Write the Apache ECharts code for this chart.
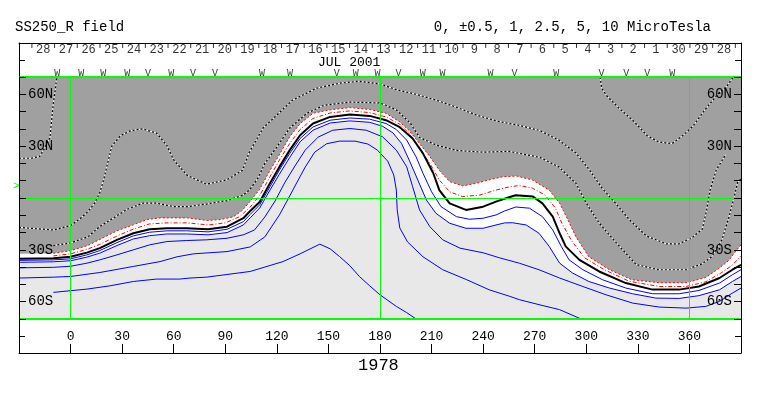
<!DOCTYPE html>
<html>
<head>
<meta charset="utf-8">
<title>SS250_R field</title>
<script src="https://cdn.jsdelivr.net/npm/echarts@6/dist/echarts.min.js"></script>
<style>
  html, body { margin: 0; padding: 0; background: #fff; }
  #chart { width: 763px; height: 396px; }
</style>
</head>
<body>
<div id="chart"></div>
<script>
// contour lines as [longitude, latitude]
// negative polarity, black dotted
const negA = [[-30,23],[-23,23],[-18,24],[-15,29],[-12,35],[-11,45],[-10,55],[-9,62],[-8,70]];
const negB = [[308,70],[309,63.5],[312,59],[319,52],[327,45],[335.5,36],[342,32.5],[350,31.5],[356,36],[362,41.5],[369,51],[376,59.5],[382,65],[385.5,70]];
const negC = [[-30,-17],[-10,-18.5],[0,-16],[5.5,-12],[10,-8],[14,-3],[17,3],[19.5,11.5],[22,22],[24,30],[29,36],[35,39],[42,40],[50,37.5],[56,30.5],[60,22],[68,13],[79,8],[91,10.5],[100,16],[104,26.5],[108,33.5],[112,40.5],[120,48],[129,56.5],[143,63.5],[157,66.5],[168,67.5],[180,66],[190,62.5],[201,60],[213,56.5],[224.5,52.5],[236,48],[248,44.5],[261,42],[273,39],[284,33.5],[294,26],[302,16],[309,6],[317,-3],[325,-12.5],[335,-22],[346.5,-26.5],[354,-26.5],[361.5,-23],[367.5,-18],[370,-7],[372,4.5],[375.5,16],[381,25]];
const negD = [[-10,-27.5],[0,-26],[10,-22.5],[17,-16.5],[25,-11.5],[33,-6.5],[42,-3],[50,-3],[60,-5],[68,-5],[79,-3.5],[91,-1.5],[100,1.5],[104,4.5],[109,11.5],[113,20],[120,29.5],[127.5,40.5],[137.5,49],[147,53.5],[162,55.5],[180,55],[189.5,51],[197.5,43.5],[203,35],[213,30.5],[224.5,27.5],[240,26.5],[255,27],[273,23.5],[284,18],[294,8.5],[300,-3],[307.5,-14.5],[317.5,-26],[329,-38.5],[342,-41.5],[358,-41.5],[367.5,-38],[373,-34],[379,-24],[383,-11],[386,0.5],[388,9],[390,11]];
// red: outer dotted (edge of the dark region) and inner dash-dot
const redOuter = [[-30,-32.3],[-10,-32],[0,-30.5],[10,-27.5],[17,-24],[27,-19],[36.5,-15.5],[44.5,-12.5],[52,-11.5],[68,-11.5],[79.5,-13],[87,-12.5],[94.5,-11],[99.5,-7.5],[104,-2.5],[110,5],[116,16],[122,26],[127.5,35.5],[133.5,43],[141,49],[151,51],[162.5,52.3],[174,51.2],[183.5,49],[191.5,44],[197,39],[203,31.5],[209,24],[214.5,16],[220.5,9.5],[228,7],[236,8.5],[243.5,10.5],[251.5,12.3],[259.5,12.7],[268.5,10.5],[278.5,4.5],[284.5,-3],[288.5,-11],[294,-22.5],[301.5,-34],[313.5,-41.5],[326.5,-47.3],[342.5,-49],[358,-49],[369.5,-46],[377.5,-40.5],[383,-36],[386,-32],[390,-27]];
const redInner = [[-10,-33.5],[0,-32.3],[9.5,-29.7],[17,-26.8],[27,-22],[36.5,-18],[46,-15],[56,-14.4],[68,-14.4],[80,-15.6],[90,-14.4],[98.5,-10.7],[104.5,-5.2],[110,1.4],[116,12.3],[121.5,22],[127.5,31.6],[133.5,39.6],[141,46],[151,49.2],[162.5,50.4],[174,49.4],[183.5,46.9],[191.5,42.7],[197,37.3],[203,28.7],[209,20],[214.5,10.4],[220.5,3.6],[228,0.8],[238,1.7],[247.5,4.6],[255.5,6.5],[261,7.2],[268.5,5.8],[276,1.7],[282,-5.8],[286,-15],[291.5,-24.8],[299,-34.6],[310.5,-41.5],[325,-48.2],[342.5,-51.2],[358,-51.2],[369.5,-48.5],[378.5,-43.3],[384.5,-39.2],[390,-33.5]];
// neutral line
const neutral = [[-30,-35.2],[-10,-34.8],[0,-34],[9.5,-31.6],[17,-29],[27,-24.2],[36.5,-20.4],[46,-18.1],[56,-17.5],[67.5,-17.5],[80,-18.1],[91,-16.6],[100.5,-11.7],[104.5,-7.5],[110,-2.3],[116,8.5],[121.5,18],[127.5,27.7],[133.5,36.3],[141,43.1],[151,46.9],[162.5,48.3],[174,47.5],[183.5,45],[191.5,41],[199,34.4],[205,25.8],[211,14.3],[214.5,4.6],[220.5,-3.1],[230,-6.9],[240,-5],[247.5,-2.1],[255.5,0.6],[259,1.6],[269,0.8],[274.5,-3.1],[280.5,-10.8],[284.5,-20.4],[288,-28],[296,-35.8],[307.5,-42.5],[323,-49.2],[338.5,-53],[354,-53],[365.5,-51.2],[377.5,-46.3],[385,-41.5],[390,-38.7]];
// positive polarity, blue
const pos1 = [[-30,-36.1],[-10,-35.8],[0,-35.2],[9.5,-32.9],[17,-30.4],[27,-25.8],[36.5,-21.9],[46,-19.8],[56,-19],[67.5,-19],[80,-19.6],[91,-18.1],[100.5,-13.7],[104.5,-9.5],[110,-4],[116,6.5],[121.5,16.2],[127.5,25.8],[133.5,34.4],[141,41.1],[151,45],[162.5,46.3],[174,45.6],[183.5,43.1],[189.5,39.6],[195.5,33.5],[201,23.8],[205,14.3],[210,3.6],[215.5,-5],[224.5,-10.8],[232,-12.3],[240,-11.7],[247.5,-9.8],[252.5,-7.5],[259,-5.2],[267,-5.9],[274.5,-10.8],[280.5,-18.5],[285.5,-28.1],[290,-35.8],[298,-41.5],[309.5,-47.3],[323,-52.1],[338.5,-55.4],[354,-55.4],[365.5,-53.5],[377.5,-49.2],[385,-44.4],[390,-41.5]];
const pos2 = [[-30,-37.2],[-10,-36.9],[0,-36.3],[9.5,-34.2],[17,-31.9],[27,-27.5],[36.5,-23.7],[46,-21.8],[56,-20.8],[67.5,-20.8],[80,-21.3],[91,-20],[100.5,-15.6],[104.5,-11.5],[110,-5.8],[116,4.6],[121.5,13.8],[127.5,23.5],[133.5,32.5],[141,39.2],[151,43.4],[162.5,44.6],[174,43.8],[181.5,41.5],[187.5,37.7],[192.5,31.6],[197,21.9],[202,10.4],[207,-1.2],[212.5,-8.8],[220.5,-14.6],[230,-17.5],[240,-17.5],[247.5,-15.6],[252.5,-14.4],[257,-14.3],[265,-15.6],[272.5,-20.4],[278.5,-28.1],[284.5,-37.7],[292,-43.4],[301.5,-48.3],[313.5,-52.1],[327,-55.4],[340.5,-57.9],[354,-58.1],[365.5,-56.5],[377.5,-53.1],[385,-48.3],[390,-45.4]];
const pos3 = [[-30,-40.4],[-10,-40.1],[0,-39.5],[9.5,-37.7],[17,-35.8],[27,-32.9],[36.5,-30],[46,-27.1],[56,-25.2],[67.5,-24.6],[79,-24.2],[91,-23.3],[100.5,-21.3],[107,-18.5],[113,-11],[119,-1.7],[124.5,8.7],[130.5,18.5],[136.5,27.7],[144,35.2],[152.5,39.2],[162.5,40.2],[172,39.2],[181.5,35.4],[189.5,27.7],[195.5,18.1],[199,6.5],[203,-6.9],[209,-16.6],[216.5,-24.2],[226.5,-29],[240,-31.7],[249.5,-34.6],[261,-37.7],[272.5,-41.5],[284.5,-46.3],[298,-51.2],[311.5,-56],[327,-60.8],[342.5,-63.1],[358,-63.7],[369.5,-62.7],[377.5,-59.8],[385,-55],[390,-52.1]];
const pos4 = [[-30,-46.3],[-10,-45.8],[0,-45.4],[17,-43.1],[36.5,-39.6],[52,-36.8],[62,-34],[71.5,-32.3],[91,-31],[104.5,-28.3],[113,-22.5],[121.5,-9.8],[127.5,1.2],[131.5,8.7],[136.5,17.9],[142,26.5],[149,31.4],[156.5,32.9],[165.5,32.9],[173,31.2],[178.5,27.7],[184.5,21.3],[188,13.3],[189.5,4.6],[190,-6.9],[191.5,-17.3],[196,-25.4],[205,-34],[216.5,-41.5],[230.5,-47.3],[243.5,-53.1],[255.5,-56.9],[261,-58.8],[272.5,-61.7],[284.5,-64.6],[297,-70]];
const pos5 = [[-10,-54.6],[9.5,-52.7],[23,-50.8],[36.5,-48.3],[50,-46.9],[63.5,-46.9],[69.5,-46.3],[79,-45.8],[94.5,-43.8],[104.5,-42.5],[123.5,-36.8],[133.5,-32.3],[145,-26.7],[151,-29.4],[156.5,-33.9],[162.5,-39.2],[168,-45.4],[174,-50.8],[180,-56],[189.5,-62.7],[195.5,-66.3],[201,-70]];

// date strip above the map
const dayLabels = ['28','27','26','25','24','23','22','21','20','19','18','17','16','15','14','13','12','11','10','9','8','7','6','5','4','3','2','1','30','29','28'];
const dayLon = [-15.9,-2.7,10.5,23.7,36.9,50.1,63.3,76.5,89.7,102.9,116.1,129.3,142.5,155.7,168.9,182.1,195.3,208.5,221.7,234.9,248.1,261.3,274.5,287.7,300.9,314.1,327.3,340.5,353.7,366.9,380.1];
const dayTickLon = [-22.5,-9.3,3.9,17.1,30.3,43.5,56.7,69.9,83.1,96.3,109.5,122.7,135.9,149.1,162.3,175.5,188.7,201.9,215.1,228.3,241.5,254.7,267.9,281.1,294.3,307.5,320.7,333.9,347.1,360.3,373.5,386.7];
const markerLon = [-7.7,6.2,19,32.9,45.1,58.5,71.2,84,111.3,127.6,154.8,165.9,178.6,190.8,204.8,216.4,244.3,258.2,282.6,308.8,323.3,335.5,350];
const markerType = ['W','W','W','W','V','W','V','V','W','W','V','W','W','V','W','W','W','V','W','V','V','V','W'];
// green reference lines: meridians, equator, map edges
const refLon = [0, 180, 360];
const refLat = [0];
const edgeLat = [70, -70];

const FONT = 'Liberation Mono';

function contourLine(data, color, type, width, z) {
  return {
    type: 'line', xAxisIndex: 0, yAxisIndex: 0, data: data,
    symbol: 'none', silent: true, z: z, clip: false,
    lineStyle: {color: color, type: type, width: width}
  };
}

function dottedLine(data) {
  // white underneath so the gaps between the black dots show white
  return [contourLine(data, '#ffffff', 'solid', 1, 3), contourLine(data, '#000000', [2, 2], 1.2, 4)];
}

function latLabel(value) {
  if (value === 30 || value === 60) return value + 'N';
  if (value === -30 || value === -60) return (-value) + 'S';
  return '';
}

function frameAxis(grid, pos) {
  return {
    type: 'value', gridIndex: grid, min: 0, max: 2, interval: 1, position: pos,
    axisLine: {show: true, onZero: false, lineStyle: {color: '#000'}},
    axisTick: {show: true, inside: true, length: 6, lineStyle: {color: '#000'}},
    axisLabel: {show: false}, splitLine: {show: false}
  };
}

function latAxis(pos) {
  return {
    type: 'value', gridIndex: 0, min: -70, max: 70, interval: 10, position: pos, z: 10,
    axisLine: {show: true, onZero: false, lineStyle: {color: '#000'}},
    axisTick: {show: true, inside: true, length: 7, lineStyle: {color: '#000'}},
    axisLabel: {inside: true, margin: 9, fontSize: 14, fontFamily: FONT, color: '#000', formatter: latLabel},
    splitLine: {show: false}
  };
}

let option = {
  animation: false,
  backgroundColor: '#ffffff',
  textStyle: {fontFamily: FONT, color: '#000'},
  grid: [
    {left: 19, right: 22, top: 77, height: 242, show: true, backgroundColor: '#a0a0a0', borderWidth: 0},
    {left: 19, right: 22, top: 43, height: 34},
    {left: 19, right: 22, top: 319, height: 34}
  ],
  xAxis: [
    {type: 'value', gridIndex: 0, min: -30, max: 390, show: false},
    {type: 'value', gridIndex: 1, min: -30, max: 390, position: 'top',
      axisLine: {show: true, onZero: false, lineStyle: {color: '#000'}}, axisTick: {show: false},
      axisLabel: {show: false}, splitLine: {show: false}},
    {type: 'value', gridIndex: 2, min: -30, max: 390, interval: 30, position: 'bottom',
      axisLine: {show: true, onZero: false, lineStyle: {color: '#000'}},
      axisTick: {show: true, inside: true, length: 9, lineStyle: {color: '#000'}},
      axisLabel: {inside: true, margin: 10, fontSize: 13, fontFamily: FONT, color: '#000',
        formatter: function (value) {
          return (value < 0 || value > 360) ? '' : String(value);
        }},
      splitLine: {show: false}}
  ],
  yAxis: [
    latAxis('left'),
    latAxis('right'),
    frameAxis(1, 'left'),
    frameAxis(1, 'right'),
    frameAxis(2, 'left'),
    frameAxis(2, 'right')
  ],
  graphic: [
    {type: 'text', left: 15, top: 20, style: {text: 'SS250_R field', fontSize: 14, fontFamily: FONT, fill: '#000'}},
    {type: 'text', right: 52, top: 20, style: {text: '0, \u00b10.5, 1, 2.5, 5, 10 MicroTesla', fontSize: 14, fontFamily: FONT, fill: '#000'}},
    {type: 'text', left: 318, top: 56, style: {text: 'JUL 2001', fontSize: 13, fontFamily: FONT, fill: '#000'}},
    {type: 'text', left: 358, top: 357, style: {text: '1978', fontSize: 17, fontFamily: FONT, fill: '#000'}},
    {type: 'text', left: 13, top: 181, style: {text: '>', fontSize: 11, fontFamily: FONT, fill: '#00ff00'}}
  ],
  series: [
    // white band and light grey positive region
    {type: 'line', xAxisIndex: 0, yAxisIndex: 0, data: redOuter, symbol: 'none', silent: true, z: 1,
      lineStyle: {width: 0}, areaStyle: {color: '#ffffff', opacity: 1, origin: 'start'}},
    {type: 'line', xAxisIndex: 0, yAxisIndex: 0, data: pos2, symbol: 'none', silent: true, z: 2,
      lineStyle: {width: 0}, areaStyle: {color: '#e8e8e8', opacity: 1, origin: 'start'}},
    ...dottedLine(negA),
    ...dottedLine(negB),
    ...dottedLine(negC),
    ...dottedLine(negD),
    contourLine(redOuter.filter(function (p) { return p[0] >= -10; }), '#ff0000', [2, 2], 1, 4),
    contourLine(redInner, '#ff0000', [4, 2, 1, 2], 1, 4),
    contourLine(neutral, '#000000', 'solid', 2, 4),
    contourLine(pos1, '#0000ff', 'solid', 1, 4),
    contourLine(pos2, '#0000ff', 'solid', 1, 4),
    contourLine(pos3, '#0000ff', 'solid', 1, 4),
    contourLine(pos4, '#0000ff', 'solid', 1, 4),
    contourLine(pos5, '#0000ff', 'solid', 1, 4),
    // green meridians and equator
    {type: 'line', xAxisIndex: 0, yAxisIndex: 0, data: [], z: 6, silent: true,
      markLine: {symbol: 'none', silent: true, animation: false, label: {show: false},
        lineStyle: {color: '#00ff00', type: 'solid', width: 1},
        data: refLon.map(function (lon) { return {xAxis: lon}; })
          .concat(refLat.map(function (lat) { return {yAxis: lat}; }))}}
  ]
  // green top and bottom edges of the map
  .concat(edgeLat.map(function (lat) { return contourLine([[-30, lat], [390, lat]], '#00ff00', 'solid', 2, 6); }))
  .concat([
    // date strip: day separators, day numbers, W/V markers
    {type: 'scatter', xAxisIndex: 1, yAxisIndex: 2, silent: true, symbol: 'rect', symbolSize: [1, 5],
      itemStyle: {color: '#000'}, data: dayTickLon.map(function (lon) { return [lon, 1.85]; })},
    {type: 'scatter', xAxisIndex: 1, yAxisIndex: 2, silent: true, symbolSize: 1,
      itemStyle: {color: 'rgba(0,0,0,0)'},
      label: {show: true, position: 'inside', fontSize: 12, fontFamily: FONT, color: '#000',
        formatter: function (p) { return p.value[2]; }},
      data: dayLon.map(function (lon, i) { return [lon, 1.62, dayLabels[i]]; })},
    {type: 'scatter', xAxisIndex: 1, yAxisIndex: 2, silent: true, symbolSize: 1,
      itemStyle: {color: 'rgba(0,0,0,0)'},
      label: {show: true, position: 'inside', fontSize: 10, fontFamily: FONT, color: '#000',
        formatter: function (p) { return p.value[2]; }},
      data: markerLon.map(function (lon, i) { return [lon, 0.24, markerType[i]]; })}
  ])
};

let chart = echarts.init(document.getElementById('chart'), null, {width: 763, height: 396});
chart.setOption(option);
</script>
</body>
</html>
